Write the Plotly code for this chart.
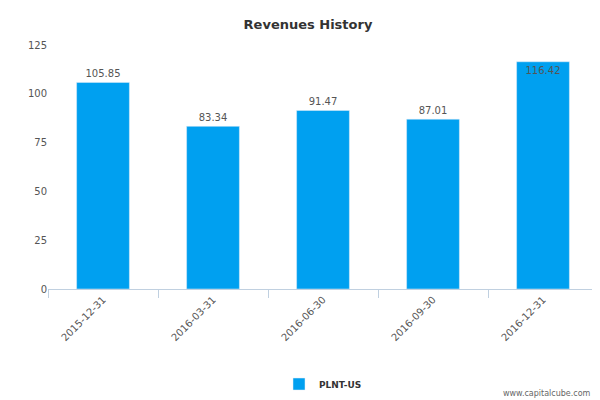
import plotly.graph_objects as go

dates = ['2015-12-31', '2016-03-31', '2016-06-30', '2016-09-30', '2016-12-31']
revenues = [105.85, 83.34, 91.47, 87.01, 116.42]
labels = [f"{v:.2f}" for v in revenues]
positions = ['outside', 'outside', 'outside', 'outside', 'inside']

fig = go.Figure()
fig.add_trace(go.Bar(
    x=dates, y=revenues, name='<b>PLNT-US</b>',
    marker_color='#00a0f0', width=0.48,
    text=labels, textposition=positions, insidetextanchor='end',
    textfont=dict(size=10, color='#555555'),
    outsidetextfont=dict(size=10, color='#555555'),
    insidetextfont=dict(size=10, color='#555555'),
    cliponaxis=False,
))

fig.update_layout(
    width=600, height=400,
    margin=dict(l=40, r=10, t=37, b=113),
    paper_bgcolor='white', plot_bgcolor='white',
    font=dict(family='DejaVu Sans', size=10, color='#555555'),
    title=dict(text='<b>Revenues History</b>', x=0.5, y=0.96, xanchor='center',
               yanchor='middle', font=dict(size=13, color='#333333')),
    showlegend=True,
    legend=dict(orientation='h', x=0.5, xanchor='center', y=-0.33, yanchor='top',
                font=dict(size=9, color='#333333')),
    xaxis=dict(type='category', tickangle=-45, showline=True, linecolor='#c0d0e0',
               ticks='outside', tickcolor='#c0d0e0', ticklen=8,
               tickson='boundaries', showgrid=False),
    yaxis=dict(range=[0, 125], dtick=25, showgrid=False, zeroline=False,
               showline=False, ticks=''),
    annotations=[dict(text='www.capitalcube.com', xref='paper', yref='paper',
                      x=0.99, y=-0.40, xanchor='right', yanchor='top', showarrow=False,
                      font=dict(size=8, color='#666666'))],
)

fig.write_html("out.html")
